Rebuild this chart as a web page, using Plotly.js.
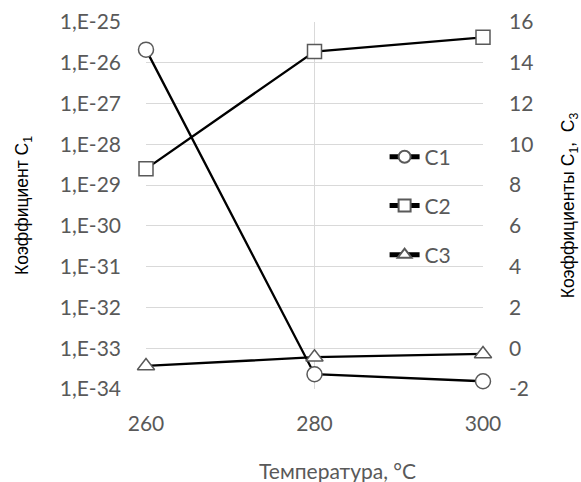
<!DOCTYPE html>
<html>
<head>
<meta charset="utf-8">
<script src="https://cdn.plot.ly/plotly-3.0.1.min.js"></script>
<style>html,body{margin:0;padding:0;background:#fff;}#chart{width:581px;height:482px;}</style>
</head>
<body>
<div id="chart"></div>
<script>
var temperatures = [260, 280, 300];
var c1Values = [2.1e-26, 2.3e-34, 1.55e-34];
var c2Values = [8.8, 14.55, 15.25];
var c3Values = [-0.87, -0.44, -0.28];
var leftTickVals = [1e-34, 1e-33, 1e-32, 1e-31, 1e-30, 1e-29, 1e-28, 1e-27, 1e-26, 1e-25];
var leftTickText = ["1,E-34", "1,E-33", "1,E-32", "1,E-31", "1,E-30", "1,E-29", "1,E-28", "1,E-27", "1,E-26", "1,E-25"];
var rightTickVals = [-2, 0, 2, 4, 6, 8, 10, 12, 14, 16];
var rightTickText = ["-2", "0", "2", "4", "6", "8", "10", "12", "14", "16"];
var seriesNames = ["C1", "C2", "C3"];

var grey = "#595959";
var labelFamily = "Lato, 'Open Sans', sans-serif";
var tickFont = {family: labelFamily, size: 21, color: grey};
var markerLine = {color: grey, width: 1.5};

var traces = [
  {x: temperatures, y: c1Values, name: seriesNames[0], yaxis: "y", legend: "legend",
   mode: "lines+markers", cliponaxis: false,
   line: {color: "#000", width: 2.3},
   marker: {symbol: "circle", size: 15, color: "#fff", line: markerLine}},
  {x: temperatures, y: c2Values, name: seriesNames[1], yaxis: "y2", legend: "legend2",
   mode: "lines+markers", cliponaxis: false,
   line: {color: "#000", width: 2.3},
   marker: {symbol: "square", size: 14, color: "#fff", line: markerLine}},
  {x: temperatures, y: c3Values, name: seriesNames[2], yaxis: "y2", legend: "legend3",
   mode: "lines+markers", cliponaxis: false,
   line: {color: "#000", width: 2.3},
   marker: {symbol: "triangle-up", size: 15, color: "#fff", line: markerLine}}
];

var legendBase = {xanchor: "left", yanchor: "middle", bgcolor: "rgba(0,0,0,0)",
  font: {family: labelFamily, size: 21, color: grey}, itemsizing: "constant"};

var layout = {
  width: 581, height: 482,
  margin: {l: 146, r: 98, t: 22, b: 93, pad: 0},
  paper_bgcolor: "#fff", plot_bgcolor: "#fff",
  showlegend: true,
  legend: Object.assign({x: 0.708, y: 0.632}, legendBase),
  legend2: Object.assign({x: 0.708, y: 0.499}, legendBase),
  legend3: Object.assign({x: 0.708, y: 0.365}, legendBase),
  xaxis: {
    range: [260, 300], tickvals: temperatures, showgrid: true, gridcolor: "#d9d9d9", gridwidth: 1,
    zeroline: false, showline: false, ticks: "", ticklabelstandoff: 20,
    tickfont: tickFont,
    automargin: false
  },
  yaxis: {
    type: "log", range: [-34, -25], tickvals: leftTickVals, ticktext: leftTickText,
    showgrid: true, gridcolor: "#d9d9d9", gridwidth: 1, zeroline: false, showline: false,
    ticks: "", ticklabelstandoff: 24, tickfont: tickFont,
    title: {text: "Коэффициент C<sub>1</sub>", font: {family: "'Liberation Sans', Arial, sans-serif", size: 17.5, color: "#000"}, standoff: 26},
    automargin: false
  },
  yaxis2: {
    overlaying: "y", side: "right", range: [-2, 16], tickvals: rightTickVals, ticktext: rightTickText,
    showgrid: false, zeroline: false, showline: false, ticks: "", ticklabelstandoff: 25,
    tickfont: tickFont,
    title: {text: "Коэффициенты C<sub>1</sub>,  C<sub>3</sub>", font: {family: "'Liberation Sans', Arial, sans-serif", size: 17.5, color: "#000"}, standoff: 30},
    automargin: false
  },
  annotations: [{
    text: "Температура, °C", xref: "paper", yref: "paper", x: 0.567, y: 0,
    xanchor: "center", yanchor: "middle", yshift: -81, showarrow: false,
    font: {family: labelFamily, size: 21, color: grey}
  }]
};

Plotly.newPlot("chart", traces, layout, {displayModeBar: false, staticPlot: true});
</script>
</body>
</html>
